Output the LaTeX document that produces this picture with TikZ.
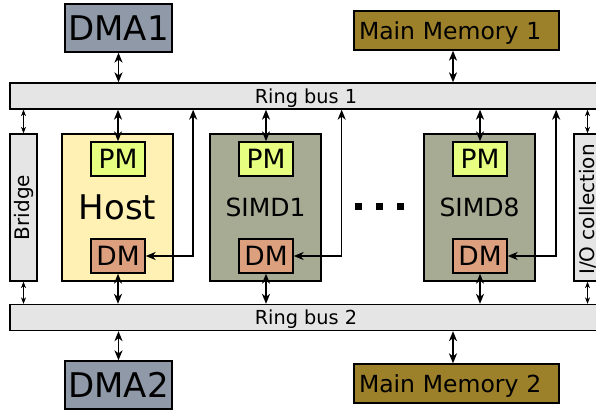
\documentclass[tikz,border=0pt]{standalone}
\usepackage{fontspec}
\setmainfont{DejaVu Sans}
\usetikzlibrary{arrows.meta}

\definecolor{dmacol}{RGB}{143,153,168}
\definecolor{memcol}{RGB}{157,128,42}
\definecolor{hostcol}{RGB}{255,240,180}
\definecolor{simdcol}{RGB}{168,171,148}
\definecolor{pmcol}{RGB}{230,255,128}
\definecolor{dmcol}{RGB}{221,160,127}
\definecolor{buscol}{RGB}{229,229,229}

\tikzset{
  bigtip/.tip={Stealth[length=10pt,width=8pt,inset=3pt]},
  smalltip/.tip={Stealth[length=6.5pt,width=5pt,inset=2pt]}
}

\begin{document}
\begin{tikzpicture}[x=1pt,y=-1pt,
  box/.style={draw, line width=1.3pt, inner sep=0pt},
  bus/.style={box, fill=buscol, minimum width=592pt, minimum height=26pt,
              text depth=0pt, font=\fontsize{19.3}{23}\selectfont},
  side/.style={box, fill=buscol, minimum width=27pt, minimum height=147pt},
  sidetext/.style={rotate=90, font=\fontsize{20}{24}\selectfont},
  unit/.style={box, minimum width=111pt, minimum height=147pt},
  pmbox/.style={box, fill=pmcol, minimum width=54pt, minimum height=34pt,
                font=\fontsize{26.5}{30}\selectfont},
  dmbox/.style={box, fill=dmcol, minimum width=54pt, minimum height=34pt,
                font=\fontsize{26.5}{30}\selectfont},
  dmabox/.style={box, fill=dmacol, minimum width=107pt, minimum height=48pt,
                 font=\fontsize{34}{40}\selectfont},
  membox/.style={box, fill=memcol, text width=195pt, inner xsep=5pt,
                 minimum height=39pt, align=left, text depth=0pt,
                 font=\fontsize{23.5}{28}\selectfont},
  link/.style={line width=1.6pt, bigtip-bigtip},
  thinlink/.style={line width=1pt, smalltip-smalltip},
  dot/.style={fill, minimum size=7pt, inner sep=0pt}]

\clip (0,0) rectangle (596,411);

% external units
\node[dmabox] (dma1) at (118.5,28) {DMA1};
\node[membox] (mm1) at (456.5,30.5) {Main Memory 1};
\node[dmabox] (dma2) at (118.5,385) {DMA2};
\node[membox] (mm2) at (456.5,383.5) {Main Memory 2};

% ring buses
\node[bus] (bus1) at (306,96) {Ring bus 1};
\node[bus] (bus2) at (306,317.5) {Ring bus 2};

% bridge and I/O collection
\node[side, label={[sidetext]center:Bridge}] (bridge) at (23.5,207.5) {};
\node[side, label={[sidetext, xshift=-2pt]center:I/O collection}] (io) at (587.5,207.5) {};

% processors
\node[unit, fill=hostcol, font=\fontsize{34}{40}\selectfont] (host) at (117.5,207.5) {Host};
\node[unit, fill=simdcol, font=\fontsize{25}{30}\selectfont] (simd1) at (265.5,207.5) {SIMD1};
\node[unit, fill=simdcol, font=\fontsize{25}{30}\selectfont] (simd8) at (479.5,207.5) {SIMD8};

\node[pmbox] (hpm) at (118,159) {PM};
\node[dmbox] (hdm) at (118,256) {DM};
\node[pmbox] (s1pm) at (266,159) {PM};
\node[dmbox] (s1dm) at (266,256) {DM};
\node[pmbox] (s8pm) at (480,159) {PM};
\node[dmbox] (s8dm) at (480,256) {DM};

% ellipsis
\node[dot] (d1) at (358,207) {};
\node[dot] (d2) at (379,207) {};
\node[dot] (d3) at (400,207) {};

% bus connections
\draw[link] (dma1.south) -- (dma1.south |- bus1.north);
\draw[link] ([xshift=-3.5pt]mm1.south) -- ([xshift=-3.5pt]mm1.south |- bus1.north);
\draw[link] (dma2.north) -- (dma2.north |- bus2.south);
\draw[link] ([xshift=-3.5pt]mm2.north) -- ([xshift=-3.5pt]mm2.north |- bus2.south);

\draw[thinlink] (bridge.north |- bus1.south) -- (bridge.north);
\draw[thinlink] (bridge.south) -- (bridge.south |- bus2.north);
\draw[thinlink] (io.north |- bus1.south) -- (io.north);
\draw[thinlink] (io.south) -- (io.south |- bus2.north);

\foreach \u in {hpm,s1pm,s8pm}
  \draw[link] (\u.north |- bus1.south) -- (\u.north);
\foreach \u in {hdm,s1dm,s8dm}
  \draw[link] (\u.south) -- (\u.south |- bus2.north);

% data memory return paths to ring bus 1
\coordinate (hfb) at ([xshift=19.5pt]host.east);
\coordinate (s1fb) at ([xshift=20pt]simd1.east);
\coordinate (s8fb) at ([xshift=20.5pt]simd8.east);
\draw[link] (hdm.east) -| (hfb |- bus1.south);
\draw[link] (s1dm.east) -| (s1fb |- bus1.south);
\draw[link] (s8dm.east) -| (s8fb |- bus1.south);

\end{tikzpicture}
\end{document}
